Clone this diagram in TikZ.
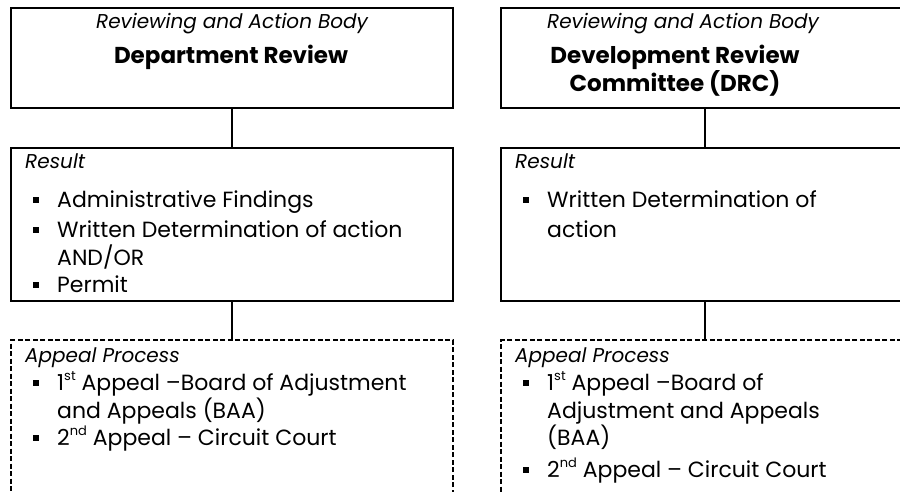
\documentclass[tikz,border=0pt]{standalone}
\usepackage{fontspec}
\setmainfont{Poppins}
\newcommand\supx[1]{\raisebox{0.42em}{\fontsize{13}{13}\selectfont #1}}
\begin{document}
\begin{tikzpicture}[x=1pt,y=-1pt,
  box/.style={draw=black, line width=2pt, inner sep=0pt, anchor=north west},
  dbox/.style={box, dash pattern=on 5pt off 2.5pt},
  link/.style={draw=black, line width=2pt},
  hdr/.style={font=\fontsize{20}{24}\selectfont\itshape, inner sep=0pt, anchor=base},
  ttl/.style={font=\fontsize{23}{27}\selectfont\bfseries, inner sep=0pt, anchor=base},
  lbl/.style={font=\fontsize{20}{24}\selectfont\itshape, inner sep=0pt, anchor=base west},
  itm/.style={font=\fontsize{22}{26}\selectfont, inner sep=0pt, anchor=base west},
  bul/.style={fill=black, minimum size=6.5pt, inner sep=0pt}]
\clip (0,0) rectangle (900,491);
% boxes
\node[box, minimum width=442pt, minimum height=100pt] (t1) at (10,7) {};
\node[box, minimum width=442pt, minimum height=153pt] (r1) at (10,147) {};
\node[dbox, minimum width=442pt, minimum height=200pt] (a1) at (10,339) {};
\node[box, minimum width=408pt, minimum height=100pt] (t2) at (500,7) {};
\node[box, minimum width=408pt, minimum height=153pt] (r2) at (500,147) {};
\node[dbox, minimum width=408pt, minimum height=200pt] (a2) at (500,339) {};
% connectors
\draw[link] (t1.south) -- (r1.north);
\draw[link] (r1.south) -- (a1.north);
\draw[link] (t2.south) -- (r2.north);
\draw[link] (r2.south) -- (a2.north);
% left column text
\node[hdr] (h1) at (232,28) {Reviewing and Action Body};
\node[ttl] (d1) at (231,63) {Department Review};
\node[lbl] (l1) at (25,168) {Result};
\node[bul] (b11) at (36,200) {};
\node[itm] (i11) at (57,207) {Administrative Findings};
\node[bul] (b12) at (36,230) {};
\node[itm] (i12) at (57,237) {Written Determination of action};
\node[itm] (i13) at (57,265) {AND/OR};
\node[bul] (b13) at (36,285) {};
\node[itm] (i14) at (57,292) {Permit};
\node[lbl] (l2) at (25,362) {Appeal Process};
\node[bul] (b21) at (36,383) {};
\node[itm] (i21) at (57,390) {1\supx{st} Appeal –Board of Adjustment};
\node[itm] (i22) at (57,418) {and Appeals (BAA)};
\node[bul] (b22) at (36,438) {};
\node[itm] (i23) at (57,445) {2\supx{nd} Appeal – Circuit Court};
% right column text
\node[hdr] (h2) at (683,28) {Reviewing and Action Body};
\node[ttl] (d2) at (675,63) {Development Review};
\node[ttl] (d3) at (675,91) {Committee (DRC)};
\node[lbl] (l3) at (515,168) {Result};
\node[bul] (b31) at (526,200) {};
\node[itm] (i31) at (547,207) {Written Determination of};
\node[itm] (i32) at (547,237) {action};
\node[lbl] (l4) at (515,362) {Appeal Process};
\node[bul] (b41) at (526,383) {};
\node[itm] (i41) at (547,390) {1\supx{st} Appeal –Board of};
\node[itm] (i42) at (547,418) {Adjustment and Appeals};
\node[itm] (i43) at (547,445) {(BAA)};
\node[bul] (b42) at (526,470) {};
\node[itm] (i44) at (547,477) {2\supx{nd} Appeal – Circuit Court};
\end{tikzpicture}
\end{document}
